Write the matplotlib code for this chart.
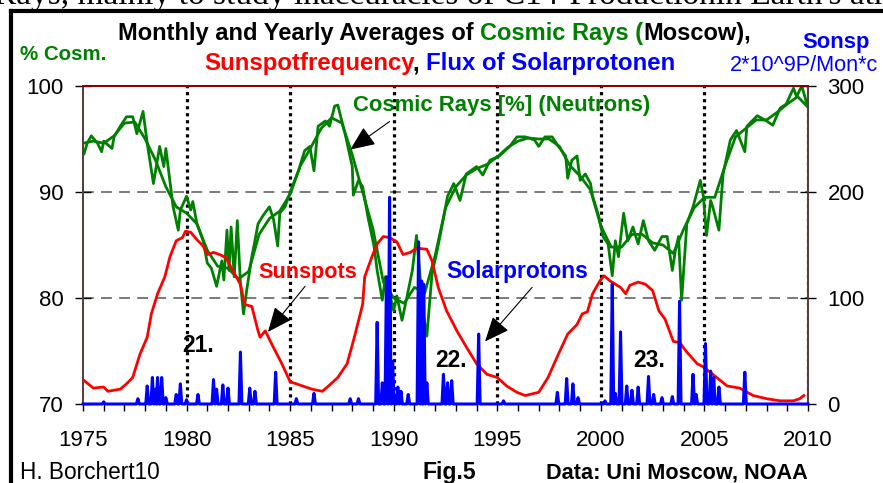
import numpy as np
import matplotlib.pyplot as plt
from matplotlib.lines import Line2D

plt.rcParams['font.family'] = ['Liberation Sans', 'DejaVu Sans']

# cosmic rays, monthly values [%]
cr_year = [1975.05, 1975.2, 1975.4, 1975.7, 1975.9, 1976.0, 1976.4, 1976.5, 1976.8, 1977.1,
           1977.4, 1977.6, 1977.9, 1978.1, 1978.4, 1978.7, 1978.9, 1979.0, 1979.35, 1979.6,
           1979.7, 1980.0, 1980.2, 1980.3, 1980.5, 1980.8, 1981.0, 1981.2, 1981.45, 1981.7,
           1981.8, 1981.95, 1982.05, 1982.15, 1982.3, 1982.45, 1982.6, 1982.75, 1982.9, 1983.15,
           1983.3, 1983.45, 1983.7, 1984.0, 1984.2, 1984.4, 1984.5, 1984.75, 1985.1, 1985.4,
           1985.7, 1985.95, 1986.15, 1986.35, 1986.7, 1986.9, 1987.15, 1987.3, 1987.65, 1988.0,
           1988.05, 1988.3, 1988.5, 1988.75, 1989.05, 1989.2, 1989.45, 1989.6, 1990.0, 1990.15,
           1990.4, 1990.65, 1990.9, 1991.1, 1991.25, 1991.4, 1991.6, 1991.85, 1992.1, 1992.35,
           1992.6, 1992.9, 1993.2, 1993.5, 1994.0, 1994.3, 1994.65, 1995.1, 1995.6, 1995.95,
           1996.35, 1996.8, 1997.0, 1997.3, 1997.65, 1997.95, 1998.3, 1998.4, 1998.6, 1998.85,
           1999.0, 1999.25, 1999.5, 1999.6, 1999.9, 2000.1, 2000.35, 2000.55, 2000.7, 2000.85,
           2001.1, 2001.3, 2001.55, 2001.8, 2002.05, 2002.3, 2002.6, 2002.95, 2003.2, 2003.45,
           2003.6, 2003.75, 2003.9, 2004.15, 2004.45, 2004.8, 2004.95, 2005.1, 2005.3, 2005.4,
           2005.7, 2005.9, 2006.25, 2006.55, 2006.95, 2007.05, 2007.55, 2008.0, 2008.3, 2008.65,
           2008.95, 2009.3, 2009.45, 2009.7, 2009.95]
cr_month = [93.6, 94.6, 95.3, 94.6, 93.8, 94.8, 94.1, 95.2, 96.2, 97.1,
            97.1, 95.5, 97.6, 94.6, 90.8, 94.3, 92.4, 94.1, 88.6, 86.4,
            88.3, 89.6, 88.3, 89.1, 87.0, 85.4, 83.3, 82.8, 81.1, 83.5,
            81.7, 86.4, 82.6, 86.7, 82.0, 87.3, 81.4, 78.5, 80.7, 83.9,
            85.4, 87.0, 87.8, 88.6, 87.4, 84.9, 88.0, 88.6, 90.5, 92.0,
            93.9, 94.3, 92.0, 96.2, 96.7, 96.2, 98.1, 98.2, 95.5, 92.4,
            89.7, 91.1, 90.5, 87.7, 84.9, 82.6, 79.8, 82.0, 78.8, 80.2,
            77.9, 80.2, 82.6, 85.9, 82.6, 78.8, 76.4, 82.3, 84.5, 87.0,
            89.6, 90.8, 89.2, 91.7, 92.4, 91.6, 93.0, 93.4, 94.3, 95.2,
            95.2, 94.9, 94.3, 95.2, 95.2, 94.3, 93.4, 91.3, 93.0, 93.4,
            91.1, 91.7, 90.8, 89.6, 87.7, 85.8, 85.1, 82.1, 85.4, 83.9,
            88.0, 85.4, 86.7, 85.1, 87.3, 85.4, 84.5, 85.8, 85.8, 82.6,
            84.5, 85.8, 79.8, 87.0, 88.6, 91.1, 89.6, 85.9, 89.2, 88.6,
            86.4, 91.7, 94.9, 95.8, 93.8, 96.2, 97.2, 96.7, 96.3, 97.9,
            98.3, 99.8, 99.0, 100.0, 98.3]

# cosmic rays, yearly (smoothed) values [%]
cr_year_s = [1975.0, 1975.5, 1976.0, 1976.5, 1977.0, 1977.5, 1978.0, 1978.5, 1979.0, 1979.5,
             1980.0, 1980.5, 1981.0, 1981.5, 1982.0, 1982.5, 1983.0, 1983.5, 1984.0, 1984.5,
             1985.0, 1985.5, 1986.0, 1986.5, 1987.0, 1987.5, 1988.0, 1988.5, 1989.0, 1989.5,
             1990.0, 1990.5, 1991.0, 1991.5, 1992.0, 1992.5, 1993.0, 1993.5, 1994.0, 1994.5,
             1995.0, 1995.5, 1996.0, 1996.5, 1997.0, 1997.5, 1998.0, 1998.5, 1999.0, 1999.5,
             2000.0, 2000.5, 2001.0, 2001.5, 2002.0, 2002.5, 2003.0, 2003.5, 2004.0, 2004.5,
             2005.0, 2005.5, 2006.0, 2006.5, 2007.0, 2007.5, 2008.0, 2008.5, 2009.0, 2009.5,
             2010.0]
cr_smooth = [94.6, 94.8, 94.6, 95.3, 96.5, 96.6, 95.0, 93.0, 90.5, 88.6,
             88.0, 87.0, 84.5, 83.0, 82.8, 81.8, 82.5, 86.0, 87.5, 88.2,
             89.8, 92.5, 94.2, 96.0, 97.0, 96.5, 93.5, 90.0, 86.5, 81.5,
             80.0, 79.5, 81.0, 80.5, 84.0, 88.5, 90.5, 91.6, 92.2, 92.6,
             93.3, 94.2, 94.8, 95.1, 95.0, 95.0, 94.3, 92.5, 91.5, 90.2,
             86.8, 84.8, 84.8, 86.0, 86.0, 85.2, 85.0, 84.2, 86.5, 88.5,
             89.5, 89.5, 92.5, 95.2, 96.0, 96.8, 96.8, 97.5, 98.3, 99.0,
             98.0]

# sunspot numbers (smoothed)
ss_year = [1975.0, 1975.5, 1976.0, 1976.2, 1976.8, 1977.1, 1977.4, 1977.75, 1978.1, 1978.3,
           1978.6, 1978.95, 1979.2, 1979.5, 1979.8, 1979.95, 1980.2, 1980.5, 1980.8, 1981.0,
           1981.3, 1981.6, 1981.9, 1982.25, 1982.6, 1982.8, 1983.15, 1983.45, 1983.55, 1983.8,
           1984.1, 1984.6, 1985.0, 1985.6, 1986.05, 1986.55, 1986.8, 1987.3, 1987.75, 1988.1,
           1988.5, 1988.6, 1988.95, 1989.2, 1989.5, 1989.8, 1990.15, 1990.45, 1990.8, 1991.1,
           1991.6, 1991.85, 1992.15, 1992.55, 1993.05, 1993.5, 1994.0, 1994.5, 1995.0, 1995.45,
           1995.95, 1996.35, 1997.0, 1997.45, 1997.95, 1998.4, 1998.85, 1999.1, 1999.35, 1999.6,
           1999.95, 2000.15, 2000.45, 2000.7, 2000.95, 2001.2, 2001.4, 2001.8, 2002.15, 2002.5,
           2002.8, 2003.1, 2003.5, 2003.8, 2004.15, 2004.65, 2004.95, 2005.4, 2006.1, 2006.7,
           2007.35, 2008.0, 2008.65, 2009.3, 2009.6, 2009.8]
ss_num = [23, 15, 16, 12, 14, 19, 25, 47, 63, 85,
          104, 120, 139, 154, 157, 163, 162, 155, 149, 141,
          143, 141, 138, 125, 113, 94, 92, 69, 63, 69,
          57, 38, 21, 17, 14, 12, 16, 25, 38, 63,
          94, 120, 139, 151, 158, 157, 153, 141, 143, 147,
          146, 135, 110, 88, 69, 54, 38, 28, 25, 17,
          11, 8, 11, 25, 47, 66, 75, 85, 87, 104,
          116, 121, 116, 113, 110, 104, 112, 115, 113, 107,
          88, 80, 59, 58, 49, 38, 35, 28, 17, 15,
          8, 5, 3, 3, 5, 8]

# solar proton events
sp_year = [1976.0, 1977.65, 1978.1, 1978.35, 1978.5, 1978.6, 1978.8, 1979.0, 1979.5, 1979.7,
           1980.0, 1980.55, 1981.3, 1981.45, 1981.75, 1982.0, 1982.6, 1983.05, 1983.3, 1984.3,
           1985.3, 1986.15, 1987.9, 1988.3, 1989.2, 1989.45, 1989.65, 1989.8, 1989.95, 1990.2,
           1990.35, 1990.7, 1991.2, 1991.35, 1991.45, 1991.6, 1992.4, 1992.6, 1992.8, 1994.1,
           1995.3, 1997.9, 1998.35, 1998.65, 1998.9, 2000.2, 2000.55, 2000.7, 2000.95, 2001.25,
           2001.5, 2001.8, 2002.3, 2002.55, 2002.95, 2003.45, 2003.8, 2004.45, 2004.6, 2005.05,
           2005.3, 2005.45, 2005.7, 2006.95]
sp_flux = [2, 5, 17, 25, 14, 25, 25, 6, 9, 19,
           4, 9, 23, 14, 18, 15, 49, 15, 12, 30,
           5, 10, 5, 5, 77, 20, 120, 195, 40, 16,
           12, 9, 153, 116, 113, 20, 28, 20, 22, 66,
           3, 11, 24, 19, 6, 3, 113, 10, 68, 17,
           13, 16, 26, 9, 6, 7, 97, 28, 9, 57,
           31, 25, 16, 30]

decades = [1980, 1985, 1990, 1995, 2000, 2005, 2010]

W, H = 883, 483
fig = plt.figure(figsize=(W / 100, H / 100), dpi=100)
ax = fig.add_axes([83 / W, 1 - 404 / H, (808 - 83) / W, (404 - 86) / H])
ax2 = ax.twinx()

ax.set_xlim(1975, 2010)
ax.set_ylim(70, 100)
ax2.set_ylim(0, 300)

# grid
for v in [80, 90]:
    ax.axhline(v, color='#707070', lw=1.3, ls=(0, (6, 4)), zorder=1)
for d in decades:
    ax.axvline(d, color='black', lw=2.3, ls=(0, (1, 1.2)), zorder=1)

# cosmic rays
ax.plot(cr_year_s, cr_smooth, color='#008000', lw=2.0, zorder=3)
ax.plot(cr_year, cr_month, color='#008000', lw=2.0, zorder=3)

# sunspots
ax2.plot(ss_year, ss_num, color='#ff0000', lw=2.0, zorder=3)

# solar protons as spikes
px = [1975.0]
py = [0]
for t, h in zip(sp_year, sp_flux):
    px += [t - 0.07, t, t + 0.07]
    py += [0, h, 0]
px.append(2010.0)
py.append(0)
ax2.plot(px, py, color='#0000ff', lw=2.2, zorder=4, clip_on=False)

# spines and ticks
for a in (ax, ax2):
    a.spines['left'].set_color('#5a3c3c')
    a.spines['right'].set_color('#5a3c3c')
    a.spines['bottom'].set_color('#5a3c3c')
    a.spines['top'].set_color('#8b0000')
    for s in a.spines.values():
        s.set_linewidth(1.3)

ax.set_yticks([70, 80, 90, 100])
ax2.set_yticks([0, 100, 200, 300])
ax.set_xticks(range(1975, 2011, 5))
ax.set_xticks(range(1975, 2011), minor=True)
ax.tick_params(axis='y', direction='inout', length=12, width=1, labelsize=16, pad=8)
ax2.tick_params(axis='y', direction='inout', length=12, width=1, labelsize=16, pad=8)
ax.tick_params(axis='x', which='both', direction='out', length=5, width=1,
               labelsize=16, pad=14)

# annotations
arrow = dict(arrowstyle='-|>,head_length=0.7,head_width=0.3', color='black',
             lw=0.8, mutation_scale=22, shrinkA=0, shrinkB=0)
ax.text(1988.04, 97.6, 'Cosmic Rays [%] (Neutrons)', color='#008000',
        fontsize=15.9, fontweight='bold', va='baseline', zorder=5)
ax.annotate('', xy=(1987.9, 94.0), xytext=(1989.8, 96.65), arrowprops=arrow, zorder=5)
ax.text(1983.45, 81.84, 'Sunspots', color='#ff0000', fontsize=15.6,
        fontweight='bold', va='baseline', zorder=5)
ax.annotate('', xy=(1983.93, 76.8), xytext=(1985.72, 81.1), arrowprops=arrow, zorder=5)
ax.text(1992.53, 81.93, 'Solarprotons', color='#0000ff', fontsize=16.5,
        fontweight='bold', va='baseline', zorder=5)
ax.annotate('', xy=(1994.41, 75.9), xytext=(1996.68, 81.0), arrowprops=arrow, zorder=5)
for lbl, x0 in [('21.', 1979.78), ('22.', 1992.0), ('23.', 2001.56)]:
    ax.text(x0, 73.5 if lbl != '21.' else 74.95, lbl, color='black', fontsize=16.5,
            fontweight='bold', va='baseline', zorder=5)


# multi-coloured header lines
def colored_line(x, y, parts, size, weight='bold'):
    r = fig.canvas.get_renderer()
    full = ''
    for s, c in parts:
        probe = fig.text(0, 0, full + s[0], fontsize=size, fontweight=weight)
        first = fig.text(0, 0, s[0], fontsize=size, fontweight=weight)
        off = (probe.get_window_extent(r).width - first.get_window_extent(r).width) if full else 0
        probe.remove()
        first.remove()
        fig.text((x + off) / W, 1 - y / H, s, color=c, fontsize=size,
                 fontweight=weight, va='baseline')
        full += s


colored_line(118, 40, [('Monthly and Yearly Averages of ', 'black'),
                       ('Cosmic Rays (', '#008000'), ('Moscow),', 'black')], 17)
colored_line(204, 70, [('Sunspotfrequency', '#ff0000'), (', ', 'black'),
                       ('Flux of Solarprotonen', '#0000ff')], 17.3)

fig.text(20 / W, 1 - 60 / H, '% Cosm.', color='#008000', fontsize=14.8,
         fontweight='bold', va='baseline')
fig.text(802 / W, 1 - 48 / H, 'Sonsp', color='#0000ff', fontsize=15.8,
         fontweight='bold', va='baseline')
fig.text(730 / W, 1 - 71 / H, '2*10^9P/Mon*c', color='#0000ff', fontsize=15.6,
         va='baseline')

fig.text(20 / W, 1 - 479 / H, 'H. Borchert10', color='black', fontsize=16.3, va='baseline')
fig.text(422 / W, 1 - 479 / H, 'Fig.5', color='black', fontsize=16.6,
         fontweight='bold', va='baseline')
fig.text(546 / W, 1 - 479 / H, 'Data: Uni Moscow, NOAA', color='black', fontsize=15.6,
         fontweight='bold', va='baseline')

# page context: cut-off text line above and frame
fig.text(-6 / W, 1 - 4 / H, "Rays, mainly to study inaccuracies of C14-Productionin Earth's atmosphere",
         family='Liberation Serif', fontsize=24, va='baseline', color='black')
fig.add_artist(Line2D([11 / W, 11 / W], [0, 1 - 11 / H], color='black', lw=3))
fig.add_artist(Line2D([11 / W, 1], [1 - 11 / H, 1 - 11 / H], color='black', lw=3))

fig.savefig('out.png', dpi=100)
